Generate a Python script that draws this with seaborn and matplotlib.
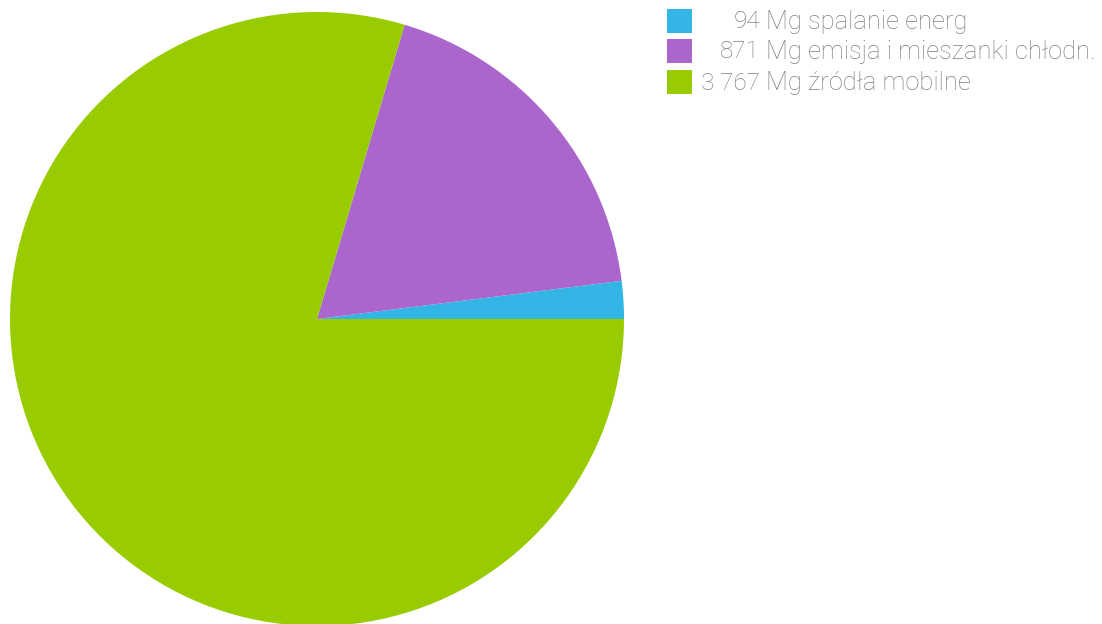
import matplotlib
matplotlib.use("Agg")
import matplotlib.pyplot as plt
import seaborn as sns
from matplotlib.patches import Rectangle

sns.set_theme(style="white")
plt.rcParams['font.family'] = ['Roboto', 'DejaVu Sans']

# Data
amounts = ["94", "871", "3 767"]
values = [94, 871, 3767]
names = ["spalanie energ", "emisja i mieszanki chłodn.", "źródła mobilne"]
unit = "Mg"
colors = ["#33b5e5", "#aa66cc", "#99cc00"]

W, H = 1102, 624
fig = plt.figure(figsize=(W / 100, H / 100), dpi=100)
fig.patch.set_facecolor("white")

cx, cy, r = 317, 319, 307
ax = fig.add_axes([(cx - r) / W, (H - cy - r) / H, 2 * r / W, 2 * r / H])
ax.pie(values, colors=colors, startangle=0, counterclock=True, radius=1,
       wedgeprops=dict(linewidth=0))
ax.set_xlim(-1, 1)
ax.set_ylim(-1, 1)
ax.set_aspect("equal")
ax.axis("off")

# Legend
text_color = "#808080"
row_y = [22, 52, 83]
for i in range(len(values)):
    y = row_y[i]
    fig.patches.append(Rectangle((667 / W, (H - y + 1 - 12) / H), 25 / W, 24 / H,
                                 transform=fig.transFigure, facecolor=colors[i],
                                 edgecolor="none"))
    fig.text(760 / W, (H - y) / H, amounts[i], ha="right", va="center",
             fontsize=17.5, color=text_color, fontweight="light")
    fig.text(766 / W, (H - y) / H, f"{unit} {names[i]}", ha="left", va="center",
             fontsize=18.4, color=text_color, fontweight="light")

fig.savefig("out.png", dpi=100, facecolor="white")
